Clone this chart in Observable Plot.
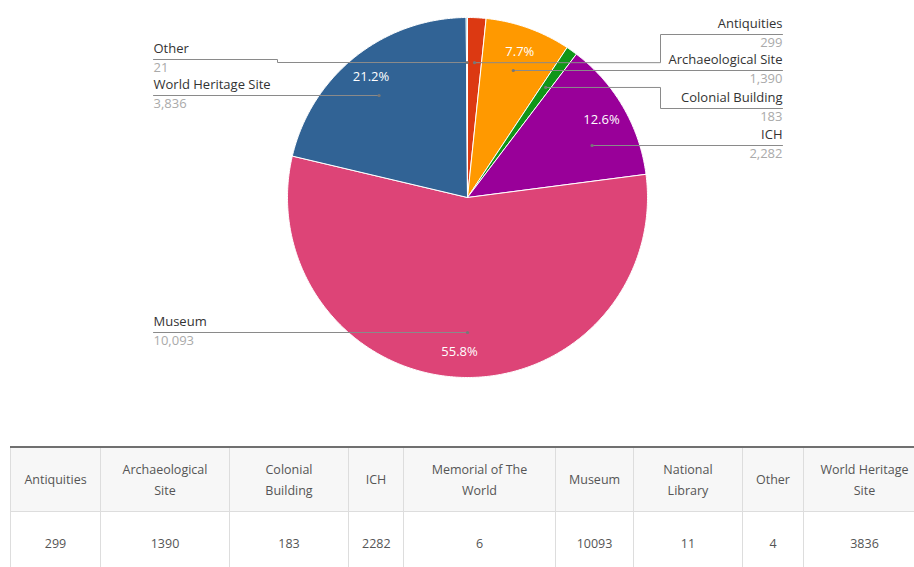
<!DOCTYPE html>
<html><head><meta charset="utf-8">
<script src="https://cdn.jsdelivr.net/npm/d3@7"></script>
<script src="https://cdn.jsdelivr.net/npm/@observablehq/plot@0.6"></script>
<style>
html,body{margin:0;padding:0;background:#fff;overflow:hidden;}
body{width:914px;height:567px;font-family:"Open Sans",sans-serif;}
#chart svg{display:block;}
table{border-collapse:collapse;table-layout:fixed;margin:10px 0 0 10px;width:915px;font-size:12.5px;color:#555;font-family:"Open Sans",sans-serif;}
th,td{border:1px solid #ddd;text-align:center;vertical-align:middle;font-weight:normal;padding:0 13px;line-height:21px;}
th{background:#f7f7f7;height:63px;border-top:2px solid #707070;}
td{height:63px;}
</style></head><body>
<div id="chart"></div>
<table id="tbl"></table>
<script>
// ---- data ----
const pieCategories = ["Antiquities","Archaeological Site","Colonial Building","ICH","Museum","World Heritage Site","Other"];
const pieValues = [299,1390,183,2282,10093,3836,21];
const pieColors = ["#dc3912","#ff9900","#109618","#990099","#dd4477","#316395","#0099c6"];
const tableCategories = ["Antiquities","Archaeological Site","Colonial Building","ICH","Memorial of The World","Museum","National Library","Other","World Heritage Site"];
const tableValues = [299,1390,183,2282,6,10093,11,4,3836];

// ---- layout (not data) ----
const W=914,H=436,CX=467,CY=197,R=180;
const labelLayout = {
  "Antiquities":{side:"right",y:34},
  "Archaeological Site":{side:"right",y:70},
  "Colonial Building":{side:"right",y:108},
  "ICH":{side:"right",y:145},
  "Museum":{side:"left",y:332},
  "World Heritage Site":{side:"left",y:95},
  "Other":{side:"left",y:59}
};
const ux = px => (px-CX)/R;
const uy = py => (CY-py)/R;
const bendX = {right:ux(660), left:ux(277)};
const endX = {right:ux(782), left:ux(153)};
const colWidths = [90,129,119,55,152,78,109,61,122];

// ---- geometry from data ----
const arcs = d3.pie().sort(null).value(d=>d)(pieValues);
const total = d3.sum(pieValues);
const arcPts = [];
arcs.forEach((a,i)=>{
  const name = pieCategories[i];
  arcPts.push({name,x:0,y:0});
  const n = Math.max(2, Math.ceil((a.endAngle-a.startAngle)/(Math.PI/360)));
  for(let j=0;j<=n;j++){
    const t = a.startAngle + (a.endAngle-a.startAngle)*j/n;
    arcPts.push({name,x:Math.sin(t),y:Math.cos(t)});
  }
  arcPts.push({name,x:0,y:0});
});

const k = 0.75;
const leaderPts = [], dots = [], names = [], vals = [], pcts = [];
arcs.forEach((a,i)=>{
  const name = pieCategories[i], L = labelLayout[name];
  const u = uy(L.y);
  let dot = null;
  if(Math.abs(u) <= k + 1e-9){
    let t = Math.acos(Math.max(-1,Math.min(1,u/k)));
    if(L.side==="left") t = 2*Math.PI - t;
    if(t>=a.startAngle && t<=a.endAngle) dot = [k*Math.sin(t), k*Math.cos(t)];
  }
  let path;
  if(dot){ path = [dot,[endX[L.side],u]]; }
  else {
    const m = (a.startAngle+a.endAngle)/2;
    dot = [k*Math.sin(m), k*Math.cos(m)];
    path = [dot,[bendX[L.side],dot[1]],[bendX[L.side],u],[endX[L.side],u]];
  }
  path.forEach(p=>leaderPts.push({name,x:p[0],y:p[1]}));
  dots.push({x:dot[0],y:dot[1]});
  const anchor = L.side==="right" ? "end" : "start";
  names.push({x:endX[L.side],y:uy(L.y-11),text:name,anchor});
  vals.push({x:endX[L.side],y:uy(L.y+8),text:d3.format(",")(pieValues[i]),anchor});
  const share = pieValues[i]/total;
  if(share>=0.05){
    const m = (a.startAngle+a.endAngle)/2;
    pcts.push({x:0.86*Math.sin(m),y:0.86*Math.cos(m),text:(share*100).toFixed(1)+"%"});
  }
});

const FS = 13;
const chart = Plot.plot({
  width:W,height:H,margin:0,
  style:{fontFamily:"Open Sans, sans-serif",fontSize:FS+"px",background:"white"},
  x:{domain:[ux(0),ux(W)],axis:null},
  y:{domain:[uy(H),uy(0)],axis:null},
  color:{domain:pieCategories,range:pieColors},
  marks:[
    Plot.line(arcPts,{x:"x",y:"y",z:"name",fill:"name",stroke:"white",strokeWidth:1,strokeLinejoin:"round"}),
    Plot.line(leaderPts,{x:"x",y:"y",z:"name",stroke:"#8a8a8a",strokeWidth:1}),
    Plot.dot(dots,{x:"x",y:"y",r:1.6,fill:"#777",stroke:null}),
    Plot.text(pcts,{x:"x",y:"y",text:"text",fill:"white",fontSize:FS}),
    Plot.text(names.filter(d=>d.anchor==="end"),{x:"x",y:"y",text:"text",textAnchor:"end",fill:"#333",fontSize:FS}),
    Plot.text(names.filter(d=>d.anchor==="start"),{x:"x",y:"y",text:"text",textAnchor:"start",fill:"#333",fontSize:FS}),
    Plot.text(vals.filter(d=>d.anchor==="end"),{x:"x",y:"y",text:"text",textAnchor:"end",fill:"#aaa",fontSize:FS}),
    Plot.text(vals.filter(d=>d.anchor==="start"),{x:"x",y:"y",text:"text",textAnchor:"start",fill:"#aaa",fontSize:FS})
  ]
});
document.getElementById("chart").appendChild(chart);

// ---- table ----
const tbl = document.getElementById("tbl");
const cg = document.createElement("colgroup");
colWidths.forEach(w=>{const c=document.createElement("col");c.style.width=w+"px";cg.appendChild(c);});
tbl.appendChild(cg);
const thead = document.createElement("thead"), hr = document.createElement("tr");
tableCategories.forEach(c=>{const th=document.createElement("th");th.textContent=c;hr.appendChild(th);});
thead.appendChild(hr); tbl.appendChild(thead);
const tbody = document.createElement("tbody"), br = document.createElement("tr");
tableValues.forEach(v=>{const td=document.createElement("td");td.textContent=String(v);br.appendChild(td);});
tbody.appendChild(br); tbl.appendChild(tbody);
</script>
</body></html>
